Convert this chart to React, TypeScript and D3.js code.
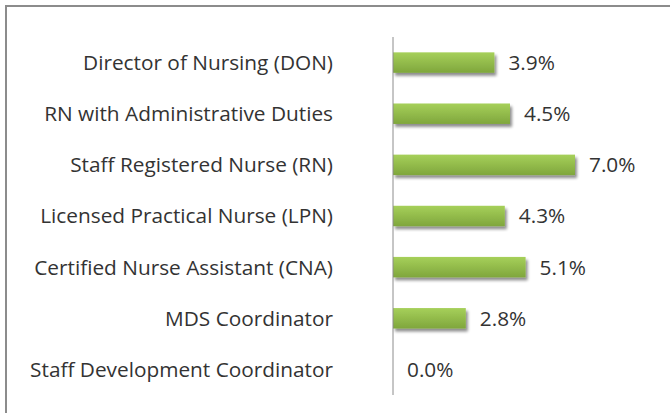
import React from "react";
import * as d3 from "d3";

const categories = [
  "Director of Nursing (DON)",
  "RN with Administrative Duties",
  "Staff Registered Nurse (RN)",
  "Licensed Practical Nurse (LPN)",
  "Certified Nurse Assistant (CNA)",
  "MDS Coordinator",
  "Staff Development Coordinator",
];
const values = [3.9, 4.5, 7.0, 4.3, 5.1, 2.8, 0.0];

const W = 670;
const H = 413;
const FONT = "'Open Sans', sans-serif";

export default function App() {
  const x = d3.scaleLinear().domain([0, 7]).range([393, 575]);
  const y = d3
    .scaleBand<string>()
    .domain(categories)
    .range([37, 395])
    .paddingInner(0.6)
    .paddingOuter(0.3);
  const bw = y.bandwidth();

  return (
    <svg
      width={W}
      height={H}
      style={{ position: "absolute", left: 0, top: 0, background: "#fff" }}
    >
      <defs>
        <linearGradient id="barGrad" x1="0" y1="0" x2="0" y2="1">
          <stop offset="0%" stopColor="#a6d05a" />
          <stop offset="100%" stopColor="#7fa63c" />
        </linearGradient>
        <filter id="shadow" x="-10%" y="-30%" width="130%" height="190%">
          <feGaussianBlur in="SourceAlpha" stdDeviation="1.6" />
          <feOffset dx="1.5" dy="2.5" result="ob" />
          <feComponentTransfer>
            <feFuncA type="linear" slope="0.45" />
          </feComponentTransfer>
          <feMerge>
            <feMergeNode />
            <feMergeNode in="SourceGraphic" />
          </feMerge>
        </filter>
      </defs>
      <rect x={0} y={0} width={W} height={H} fill="#fff" />
      <path d={`M6,${H + 5} L6,6 L${W + 5},6`} fill="none" stroke="#8c8c8c" strokeWidth={2} />

      {categories.map((c, i) => {
        const cy = (y(c) as number) + bw / 2;
        return (
          <g key={c}>
            {values[i] > 0 && (
              <rect
                x={x(0)}
                y={y(c)}
                width={x(values[i]) - x(0)}
                height={bw}
                fill="url(#barGrad)"
                filter="url(#shadow)"
              />
            )}
            <text
              x={333}
              y={cy}
              dy="0.36em"
              textAnchor="end"
              fontFamily={FONT}
              fontSize={20.8}
              fill="#333"
            >
              {c}
            </text>
            <text
              x={x(values[i]) + 14}
              y={cy}
              dy="0.36em"
              textAnchor="start"
              fontFamily={FONT}
              fontSize={20.8}
              fill="#333"
            >
              {values[i].toFixed(1) + "%"}
            </text>
          </g>
        );
      })}
      <line x1={x(0)} x2={x(0)} y1={37} y2={395} stroke="#8c8c8c" strokeWidth={1} />
    </svg>
  );
}
